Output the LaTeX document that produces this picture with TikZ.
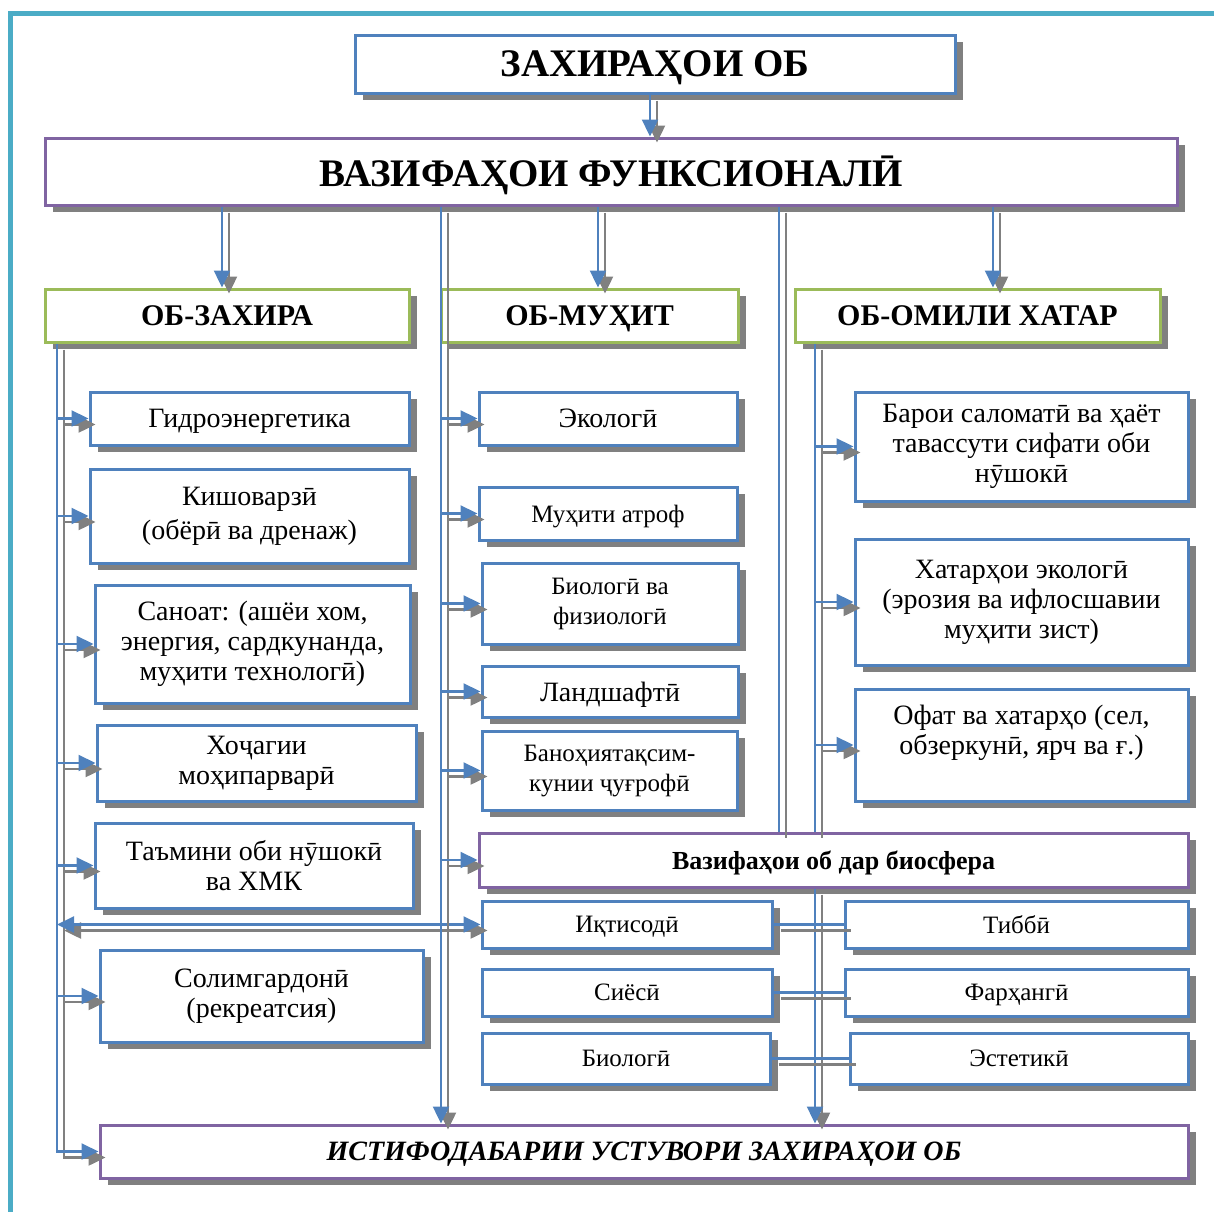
\documentclass[tikz,border=0pt]{standalone}
\usepackage{fontspec}
\setmainfont{Liberation Serif}
\usetikzlibrary{arrows.meta,shadows}
\definecolor{bl}{RGB}{79,129,189}
\definecolor{pu}{RGB}{128,100,162}
\definecolor{gr}{RGB}{155,187,89}
\definecolor{te}{RGB}{75,172,198}
\definecolor{sh}{RGB}{128,128,128}
\newcommand\bx[7][]{\node[box,#1,minimum width={(#5-#3)*0.5pt},minimum height={(#6-#4)*0.5pt}] (#2) at ({(#3+#5)/2},{(#4+#6)/2}) {#7};}
\newcommand\cn[2][]{%
  \draw[draw=sh,line width=1.2pt,#1,transform canvas={shift={(3.5pt,-3pt)}}] #2;
  \draw[draw=bl,line width=1.2pt,#1] #2;}
\begin{document}
\begin{tikzpicture}[x=0.5pt,y=-0.5pt,
  box/.style={draw=bl,line width=1.5pt,fill=white,inner sep=2pt,align=center,
    font=\fontsize{14}{15}\selectfont,
    general shadow={fill=sh,shadow xshift=4pt,shadow yshift=-3.5pt}},
  pbox/.style={box,draw=pu},
  gbox/.style={box,draw=gr},
  one/.style={text depth=0pt},
  arr/.style={-{Triangle[length=8.5pt,width=8pt]}},
  darr/.style={{Triangle[length=8.5pt,width=8pt]}-{Triangle[length=8.5pt,width=8pt]}},
  small/.style={font=\fontsize{12.5}{15}\selectfont},
  low/.style={font=\fontsize{12.5}{15}\selectfont},
  head/.style={font=\fontsize{15}{18}\bfseries},
]
\useasboundingbox (0,0) rectangle (1214,1211);
% frame
\draw[te,line width=2.5pt] (10.5,1215) -- (10.5,13.5) -- (1218,13.5);

% boxes
\bx[one,font=\fontsize{19.5}{22}\bfseries]{title}{355}{35}{955}{93}{ЗАХИРАҲОИ ОБ}
\bx[pbox,one,font=\fontsize{19.5}{22}\bfseries]{vaz}{45}{138}{1177}{205}{ВАЗИФАҲОИ ФУНКСИОНАЛӢ}
\bx[gbox,head,one]{zax}{45}{289}{409}{342}{ОБ-ЗАХИРА}
\bx[gbox,head,one]{muh}{441}{289}{738}{342}{ОБ-МУҲИТ}
\bx[gbox,head,one]{omil}{795}{289}{1160}{342}{ОБ-ОМИЛИ ХАТАР}

\bx[one]{gid}{90}{392}{409}{445}{Гидроэнергетика}
\bx[font=\fontsize{14}{17}\selectfont]{kish}{90}{469}{409}{563}{Кишоварзӣ\\(обёрӣ ва дренаж)}
\bx{san}{95}{585}{410}{703}{Саноат: (ашёи хом,\\энергия, сардкунанда,\\муҳити технологӣ)}
\bx{mohi}{97}{725}{416}{801}{Хоҷагии\\моҳипарварӣ}
\bx{tam}{95}{823}{413}{908}{Таъмини оби нӯшокӣ\\ва ХМК}
\bx{sol}{100}{950}{423}{1042}{Солимгардонӣ\\(рекреатсия)}

\bx[one]{eko}{479}{392}{737}{445}{Экологӣ}
\bx[small,one]{atr}{479}{487}{737}{540}{Муҳити атроф}
\bx[small]{biofiz}{482}{563}{738}{644}{Биологӣ ва\\физиологӣ}
\bx[one]{land}{482}{666}{738}{717}{Ландшафтӣ}
\bx[small]{ban}{482}{731}{737}{810}{Баноҳиятақсим-\\кунии ҷуғрофӣ}

\bx[pbox,one,font=\fontsize{13}{15}\bfseries]{bio}{479}{833}{1188}{887}{Вазифаҳои об дар биосфера}
\bx[low,one]{iqt}{482}{901}{772}{948}{Иқтисодӣ}
\bx[low,one]{siyo}{482}{969}{772}{1016}{Сиёсӣ}
\bx[low,one]{biol}{482}{1033}{770}{1084}{Биологӣ}
\bx[low,one]{tib}{845}{901}{1188}{948}{Тиббӣ}
\bx[low,one]{far}{845}{969}{1188}{1016}{Фарҳангӣ}
\bx[low,one]{est}{850}{1033}{1188}{1084}{Эстетикӣ}

\bx{bar}{855}{392}{1188}{501}{Барои саломатӣ ва ҳаёт\\тавассути сифати оби\\нӯшокӣ}
\bx{xat}{855}{539}{1188}{665}{Хатарҳои экологӣ\\(эрозия ва ифлосшавии\\муҳити зист)}
\bx{ofat}{855}{689}{1188}{801}{Офат ва хатарҳо (сел,\\обзеркунӣ, ярч ва ғ.)\\\mbox{}}

\bx[pbox,one,font=\fontsize{14}{16}\bfseries\itshape]{ist}{100}{1125}{1188}{1178}{ИСТИФОДАБАРИИ УСТУВОРИ ЗАХИРАҲОИ ОБ}

% line positions
\coordinate (xt) at (650,0);
\coordinate (xa1) at (222,0);
\coordinate (xa2) at (598,0);
\coordinate (xa3) at (993,0);
\coordinate (xL) at (57,0);
\coordinate (xM) at (441,0);
\coordinate (xB) at (779,0);
\coordinate (xR) at (815,0);

% top connectors
\cn[arr]{(xt |- title.south) -- (xt |- vaz.north)}
\cn[arr]{(xa1 |- vaz.south) -- (xa1 |- zax.north)}
\cn[arr]{(xa2 |- vaz.south) -- (xa2 |- muh.north)}
\cn[arr]{(xa3 |- vaz.south) -- (xa3 |- omil.north)}

% left branch
\cn[arr]{(xL |- zax.south) -- (xL |- ist.west) -- (ist.west)}
\cn[arr]{(xL |- gid.west) -- (gid.west)}
\cn[arr]{(xL |- kish.west) -- (kish.west)}
\cn[arr]{(xL |- san.west) -- (san.west)}
\cn[arr]{(xL |- mohi.west) -- (mohi.west)}
\cn[arr]{(xL |- tam.west) -- (tam.west)}
\cn[arr]{(xL |- sol.west) -- (sol.west)}
\cn[darr]{(xL |- iqt.west) -- (iqt.west)}

% middle branch
\cn[arr]{(xM |- vaz.south) -- (xM |- ist.north)}
\cn[arr]{(xM |- eko.west) -- (eko.west)}
\cn[arr]{(xM |- atr.west) -- (atr.west)}
\cn[arr]{(xM |- biofiz.west) -- (biofiz.west)}
\cn[arr]{(xM |- land.west) -- (land.west)}
\cn[arr]{(xM |- ban.west) -- (ban.west)}
\cn[arr]{(xM |- bio.west) -- (bio.west)}

% to biosphere
\cn{(xB |- vaz.south) -- (xB |- bio.north)}
\cn{(xR |- omil.south) -- (xR |- bio.north)}
\cn[arr]{(xR |- bio.south) -- (xR |- ist.north)}

% right branch
\cn[arr]{(xR |- bar.west) -- (bar.west)}
\cn[arr]{(xR |- xat.west) -- (xat.west)}
\cn[arr]{(xR |- ofat.west) -- (ofat.west)}

% links
\cn{(iqt.east) -- (iqt.east -| tib.west)}
\cn{(siyo.east) -- (siyo.east -| far.west)}
\cn{(biol.east) -- (biol.east -| est.west)}
\end{tikzpicture}
\end{document}
